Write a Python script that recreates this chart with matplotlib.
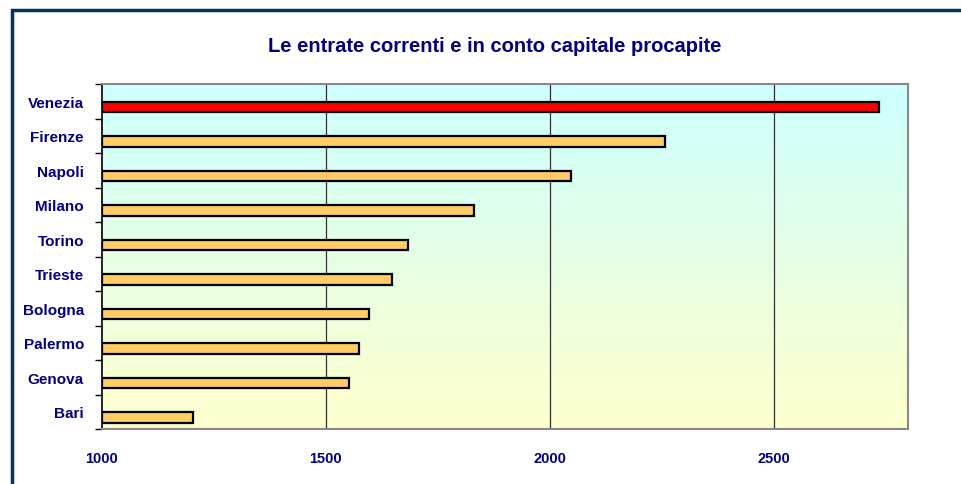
import matplotlib.pyplot as plt
import numpy as np
from matplotlib.patches import Rectangle
from matplotlib.colors import LinearSegmentedColormap

# Data
cities = ["Venezia", "Firenze", "Napoli", "Milano", "Torino",
          "Trieste", "Bologna", "Palermo", "Genova", "Bari"]
values = [2735, 2257, 2047, 1830, 1683, 1647, 1596, 1574, 1551, 1203]
bar_colors = ["#FF0000"] + ["#FFCC66"] * 9
x_ticks = [1000, 1500, 2000, 2500]

navy = "#000080"
plt.rcParams['font.family'] = ['Liberation Sans', 'DejaVu Sans']

fig = plt.figure(figsize=(9.61, 4.85), dpi=100)
fig.patch.set_facecolor("white")

# outer dark-blue frame (runs off the right and bottom edges)
fig.patches.append(Rectangle((11.5 / 961, -0.1), 1.2, 1 - 10.5 / 485 + 0.1,
                             transform=fig.transFigure, fill=False,
                             edgecolor="#003366", lw=2.5))

ax = fig.add_axes([102 / 961, 1 - 430 / 485, 806 / 961, 345 / 485])

# gradient background: cyan at top to pale yellow at bottom
cmap = LinearSegmentedColormap.from_list("bg", ["#CCFFFF", "#FFFFCC"])
grad = np.linspace(0, 1, 256).reshape(-1, 1)
ax.imshow(grad, cmap=cmap, aspect="auto", extent=[1000, 2800, 9.5, -0.5],
          zorder=0)

pos = np.arange(len(cities))
ax.barh(pos + 0.17, np.array(values) - 1000, left=1000, height=0.3,
        color=bar_colors, edgecolor="black", lw=1.6, zorder=3)

ax.set_xlim(1000, 2800)
ax.set_ylim(9.5, -0.5)

for t in x_ticks[1:]:
    ax.axvline(t, color="#333333", lw=0.9, zorder=1)

ax.set_xticks(x_ticks)
ax.set_xticklabels([str(t) for t in x_ticks], color=navy,
                   fontsize=10.5, fontweight="bold")
ax.tick_params(axis="x", length=0, pad=16)

ax.set_yticks(pos)
ax.set_yticklabels(cities, color=navy, fontsize=11, fontweight="bold")
ax.tick_params(axis="y", which="major", length=0, pad=13)
ax.set_yticks(np.arange(-0.5, 10, 1), minor=True)
ax.tick_params(axis="y", which="minor", length=5, width=1, color="black",
               direction="out")

for s in ["top", "right", "bottom"]:
    ax.spines[s].set_color("#888888")
    ax.spines[s].set_linewidth(1.5)
ax.spines["left"].set_color("black")
ax.spines["left"].set_linewidth(1.2)

fig.text(495 / 961, 1 - 46 / 485, "Le entrate correnti e in conto capitale procapite",
         ha="center", va="center", color=navy, fontsize=14.5, fontweight="bold")

fig.savefig("out.png", dpi=100)
